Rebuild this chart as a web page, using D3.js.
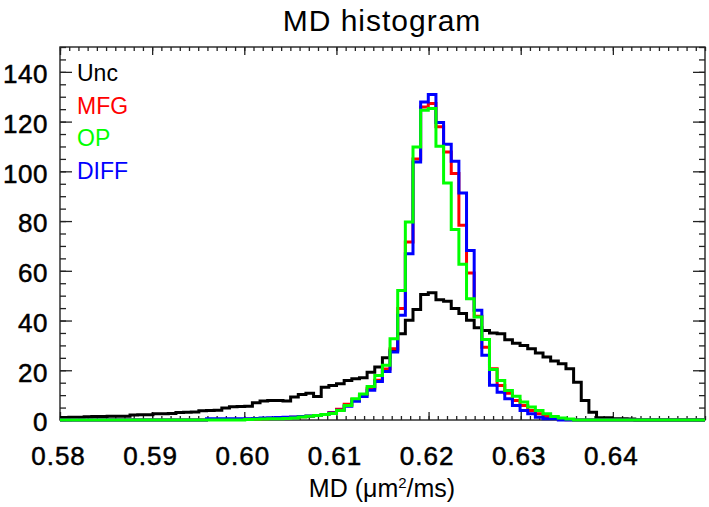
<!DOCTYPE html>
<html>
<head>
<meta charset="utf-8">
<script src="https://cdn.jsdelivr.net/npm/d3@7"></script>
<style>
  html, body { margin: 0; padding: 0; background: #fff; }
  svg { display: block; }
  text { font-family: "Liberation Sans", Arial, sans-serif; }
</style>
</head>
<body>
<div id="chart"></div>
<script>
// ---------------- data ----------------
const binStart = 0.5793;     // left edge of first histogram bin (MD units)
const binWidth = 0.00083;    // histogram bin width (MD units)

const seriesNames = ["Unc", "MFG", "OP", "DIFF"];
const seriesColors = ["#000000", "#ff0000", "#00ff00", "#0000ff"];

const unc = [1.0,1.0,1.1,1.1,1.3,1.4,1.4,1.5,1.5,1.5,
  2.0,2.1,2.1,2.5,2.5,2.6,3.0,3.1,3.2,3.7,
  3.8,3.9,4.8,5.3,5.4,5.5,6.9,7.6,7.8,7.8,
  7.6,9.2,10.3,10.8,9.5,13.2,13.9,14.6,15.9,16.6,
  17.0,19.2,21.3,25.0,28.0,34.7,40.1,44.4,50.5,51.2,
  48.4,47.8,44.8,42.8,40.1,37.1,36.0,35.0,34.7,32.3,
  30.9,30.0,28.7,26.9,25.3,23.7,22.6,20.6,15.2,7.8,
  3.1,0.9,0.9,0.5,0.5,0.4,0,0,0,0,
  0,0,0,0,0,0];
const mfg = [0,0,0,0,0,0,0,0,0,0,
  0,0,0,0,0,0,0,0,0,0,
  0.2,0.2,0.2,0.2,0.2,0.3,0.4,0.5,0.6,0.8,
  0.9,1.1,1.3,1.5,1.8,2.2,3.0,4.3,6.3,8.2,
  10.2,12.8,16.0,20.5,28.7,44.8,71.6,105.0,125.9,127.3,
  117.9,107.8,99.1,78.3,59.1,41.7,29.3,20.6,13.9,10.8,
  7.8,5.8,3.8,2.5,1.4,0.7,0.3,0.1,0,0,
  0,0,0,0,0,0,0,0,0,0,
  0,0,0,0,0,0];
const op = [0,0,0,0,0,0,0,0,0,0,
  0,0,0,0,0,0,0,0,0,0,
  0,0,0,0,0,0.2,0.3,0.4,0.5,0.5,
  0.6,0.8,1.2,1.5,1.8,2.2,2.6,3.8,5.8,8.5,
  10.5,13.5,17.9,22.0,32.7,52.1,79.6,109.8,124.6,125.3,
  110.1,95.3,76.6,62.6,48.8,41.4,32.4,20.3,15.9,11.9,
  9.6,7.2,5.2,3.8,2.5,1.4,0.8,0.4,0,0,
  0,0,0,0,0,0,0,0,0,0,
  0,0,0,0,0,0];
const diff = [0,0,0,0,0,0,0,0,0,0,
  0,0,0,0,0,0,0,0,0,0,
  0.5,0.5,0.5,0.5,0.5,0.5,0.6,0.8,0.9,1.0,
  1.1,1.2,1.4,1.6,1.8,2.2,2.8,3.9,5.5,7.5,
  9.5,12.0,15.5,19.5,27.3,42.1,66.9,103.8,127.9,130.9,
  119.6,110.9,104.1,91.3,68.2,44.1,26.0,14.0,11.2,8.5,
  5.8,3.8,2.5,1.1,0.5,0.5,0,0,0,0,
  0,0,0,0,0,0,0,0,0,0,
  0,0,0,0,0,0];

const xTicks = [0.58, 0.59, 0.60, 0.61, 0.62, 0.63, 0.64];
const yTicks = [0, 20, 40, 60, 80, 100, 120, 140];

// ---------------- layout ----------------
const W = 709, H = 507;
const L = 60, R = 705, T = 47, B = 420;

const svg = d3.select("#chart").append("svg").attr("width", W).attr("height", H);

const x = d3.scaleLinear().domain([0.58, 0.65]).range([L, R]);
const y = d3.scaleLinear().domain([0, 150]).range([B, T]);

svg.append("defs").append("clipPath").attr("id", "clip")
  .append("rect").attr("x", L).attr("y", T).attr("width", R - L).attr("height", B - T + 3);

// minor ticks
const xMinor = d3.range(580, 651).map(d => d / 1000);
const yMinor = d3.range(0, 151, 5);

function styleAxis(g) {
  g.select(".domain").remove();
  g.selectAll(".tick line").attr("stroke", "#222").attr("stroke-width", 1.3);
}

// bottom
svg.append("g").attr("transform", `translate(0,${B})`)
  .call(d3.axisBottom(x).tickValues(xMinor).tickSize(-4).tickFormat(""))
  .call(styleAxis);
svg.append("g").attr("transform", `translate(0,${B})`)
  .call(d3.axisBottom(x).tickValues(xTicks).tickSize(-8).tickPadding(27).tickFormat(d3.format(".2f")))
  .call(styleAxis)
  .call(g => g.selectAll("text").attr("font-size", 26).attr("fill", "#000")
    .attr("stroke", "#000").attr("stroke-width", 0.5).attr("letter-spacing", 1).attr("dx", -2));
// top
svg.append("g").attr("transform", `translate(0,${T})`)
  .call(d3.axisTop(x).tickValues(xMinor).tickSize(-4).tickFormat(""))
  .call(styleAxis);
svg.append("g").attr("transform", `translate(0,${T})`)
  .call(d3.axisTop(x).tickValues(xTicks).tickSize(-8).tickFormat(""))
  .call(styleAxis);
// left
svg.append("g").attr("transform", `translate(${L},0)`)
  .call(d3.axisLeft(y).tickValues(yMinor).tickSize(-6).tickFormat(""))
  .call(styleAxis);
svg.append("g").attr("transform", `translate(${L},0)`)
  .call(d3.axisLeft(y).tickValues(yTicks).tickSize(-12).tickPadding(12).tickFormat(d3.format("d")))
  .call(styleAxis)
  .call(g => g.selectAll("text").attr("font-size", 26).attr("fill", "#000")
    .attr("stroke", "#000").attr("stroke-width", 0.5).attr("letter-spacing", 0.5).attr("dy", "0.42em"));
// right
svg.append("g").attr("transform", `translate(${R},0)`)
  .call(d3.axisRight(y).tickValues(yMinor).tickSize(-6).tickFormat(""))
  .call(styleAxis);
svg.append("g").attr("transform", `translate(${R},0)`)
  .call(d3.axisRight(y).tickValues(yTicks).tickSize(-12).tickFormat(""))
  .call(styleAxis);

// frame
svg.append("rect").attr("x", L).attr("y", T).attr("width", R - L).attr("height", B - T)
  .attr("fill", "none").attr("stroke", "#222").attr("stroke-width", 1.4);

// histogram step lines
function stepPoints(vals) {
  const pts = [];
  vals.forEach((v, i) => {
    const x0 = binStart + i * binWidth, x1 = binStart + (i + 1) * binWidth;
    pts.push([x0, v], [x1, v]);
  });
  return pts;
}
const line = d3.line().x(d => x(d[0])).y(d => y(d[1]));
const plotG = svg.append("g").attr("clip-path", "url(#clip)");
const drawOrder = [[unc, 0], [mfg, 1], [diff, 3], [op, 2]];
drawOrder.forEach(([vals, k]) => {
  plotG.append("path").attr("d", line(stepPoints(vals)))
    .attr("fill", "none").attr("stroke", seriesColors[k])
    .attr("stroke-width", 3).attr("stroke-linejoin", "miter");
});

// legend
seriesNames.forEach((n, i) => {
  svg.append("text").attr("x", 77).attr("y", 81 + i * 32.5)
    .attr("font-size", 23).attr("fill", seriesColors[i]).text(n);
});

// title
svg.append("text").attr("x", 382).attr("y", 31).attr("text-anchor", "middle")
  .attr("font-size", 30).attr("letter-spacing", 1).attr("fill", "#000").text("MD histogram");

// x-axis title
const xt = svg.append("text").attr("x", 382).attr("y", 497).attr("text-anchor", "middle")
  .attr("font-size", 25).attr("fill", "#000");
xt.append("tspan").text("MD (");
xt.append("tspan").text("μ");
xt.append("tspan").text("m");
xt.append("tspan").attr("font-size", 15).attr("dy", -9).text("2");
xt.append("tspan").attr("dy", 9).text("/ms)");
</script>
</body>
</html>
